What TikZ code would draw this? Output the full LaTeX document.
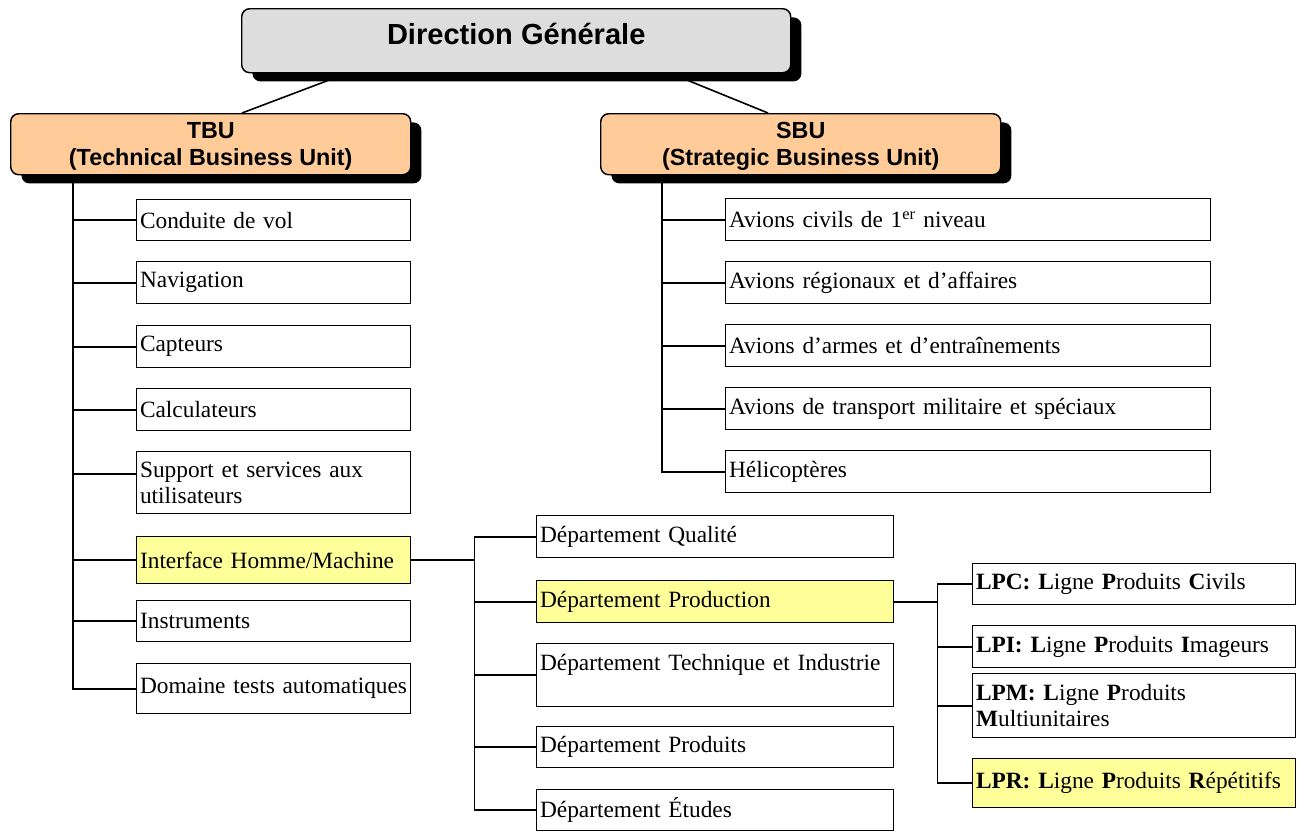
\documentclass[tikz,border=0pt]{standalone}
\usepackage{fontspec}
\setmainfont{Liberation Serif}
\setsansfont{Liberation Sans}
\usepackage{xcolor}
\usetikzlibrary{positioning}
\usetikzlibrary{calc}
\usetikzlibrary{shadows}

\definecolor{dggray}{HTML}{DDDDDD}
\definecolor{unitorange}{HTML}{FFCC99}
\definecolor{hlyellow}{HTML}{FFFF99}

\tikzset{
	headbox/.style={draw, line width=1.1pt, rounded corners=6pt, anchor=north west, align=center,
		inner sep=0pt, drop shadow={shadow xshift=8pt, shadow yshift=-6.5pt, fill=black, opacity=1}},
	unitbox/.style={headbox, fill=unitorange, minimum width=300pt, minimum height=45.75pt, text depth=-2.5pt,
		font=\sffamily\bfseries\fontsize{17.5}{20.25}\selectfont},
	itembox/.style={draw, fill=white, line width=1.1pt, anchor=north west, align=left,
		inner xsep=2.5pt, inner ysep=0pt, font=\fontsize{17.5}{19.5}\selectfont},
	tbuitem/.style={itembox, text width=200.5pt},
	sbuitem/.style={itembox, text width=358.75pt},
	depitem/.style={itembox, text width=262.75pt},
	lpitem/.style={itembox, text width=237.25pt},
	hl/.style={fill=hlyellow},
	link/.style={line width=1.2pt}
}

\begin{document}
\begin{tikzpicture}[x=0.75pt, y=-0.75pt]
	\fill[white] (0,0) rectangle (1302,832);
	\useasboundingbox (0,0) rectangle (1302,832);
	
	% direction
	\node[headbox, fill=dggray, minimum width=411.75pt, minimum height=48pt, text depth=10pt,
		font=\sffamily\bfseries\fontsize{21.8}{24}\selectfont] (dg) at (241,8) {Direction Générale};
	
	% business units
	\node[unitbox] (tbu) at (10,113) {TBU\\(Technical Business Unit)};
	\node[unitbox] (sbu) at (600,113) {SBU\\(Strategic Business Unit)};
	
	\draw[link] ($(dg.south west)+(87,7)$) -- ($(tbu.north west)+(232,0)$);
	\draw[link] ($(dg.south west)+(447,7)$) -- ($(sbu.north west)+(168,0)$);
	
	% TBU
	\node[tbuitem, minimum height=30.75pt] (c1) at (136,199) {Conduite de vol};
	\node[tbuitem, minimum height=31.5pt] (c2) at (136,261) {Navigation};
	\node[tbuitem, minimum height=31.5pt] (c3) at (136,325) {Capteurs};
	\node[tbuitem, minimum height=31.5pt] (c4) at (136,388) {Calculateurs};
	\node[tbuitem, minimum height=46.5pt] (c5) at (136,451) {Support et services aux\\utilisateurs};
	\node[tbuitem, hl, minimum height=35.25pt] (c6) at (136,536) {Interface Homme/Machine};
	\node[tbuitem, minimum height=30.75pt] (c7) at (136,600) {Instruments};
	\node[tbuitem, minimum height=37.5pt] (c8) at (136,663) {Domaine tests automatiques};
	
	\coordinate (tbut) at (73,183);
	\foreach \n in {c1,c2,c3,c4,c6,c7,c8}
		\draw[link] (tbut) |- (\n.west);
	\draw[link] (tbut) |- ($(c5.west)+(0,-9)$);
	
	% SBU
	\node[sbuitem, minimum height=31.5pt] (s1) at (725,198) {Avions civils de 1\textsuperscript{er} niveau};
	\node[sbuitem, minimum height=31.5pt] (s2) at (725,261) {Avions régionaux et d’affaires};
	\node[sbuitem, minimum height=31.5pt] (s3) at (725,324) {Avions d’armes et d’entraînements};
	\node[sbuitem, minimum height=31.5pt] (s4) at (725,387) {Avions de transport militaire et spéciaux};
	\node[sbuitem, minimum height=31.5pt] (s5) at (725,450) {Hélicoptères};
	
	\coordinate (sbut) at (662,183);
	\foreach \n in {s1,s2,s3,s4,s5}
		\draw[link] (sbut) |- (\n.west);
	
	% departements
	\node[depitem, minimum height=31.5pt] (d1) at (536,515) {Département Qualité};
	\node[depitem, hl, minimum height=31.5pt] (d2) at (536,580) {Département Production};
	\node[depitem, minimum height=47.25pt] (d3) at (536,643) {Département Technique et Industrie\\~};
	\node[depitem, minimum height=30.75pt] (d4) at (536,726) {Département Produits};
	\node[depitem, minimum height=30.75pt] (d5) at (536,789) {Département Études};
	
	\draw[link] (c6.east) -- ++(63,0) coordinate (dept);
	\foreach \n in {d1,d2,d3,d4,d5}
		\draw[link] (dept) |- (\n.west);
	
	% lignes produits
	\node[lpitem, minimum height=30.75pt] (l1) at (972,563) {\textbf{LPC: L}igne \textbf{P}roduits \textbf{C}ivils};
	\node[lpitem, minimum height=31.5pt] (l2) at (972,625) {\textbf{LPI: L}igne \textbf{P}roduits \textbf{I}mageurs};
	\node[lpitem, minimum height=48pt] (l3) at (972,673) {\textbf{LPM: L}igne \textbf{P}roduits\\\textbf{M}ultiunitaires};
	\node[lpitem, hl, minimum height=36.75pt] (l4) at (972,758) {\textbf{LPR: L}igne \textbf{P}roduits \textbf{R}épétitifs};
	
	\draw[link] (d2.east) -- ++(43,0) coordinate (lpt);
	\foreach \n in {l1,l2,l3,l4}
		\draw[link] (lpt) |- (\n.west);
\end{tikzpicture}
\end{document}
